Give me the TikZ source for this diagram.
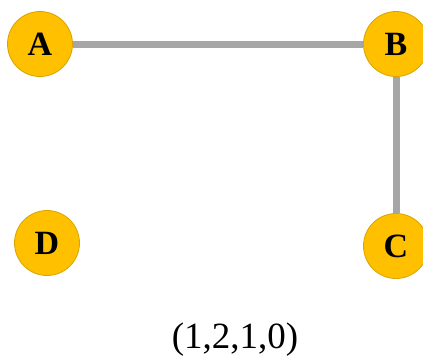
\documentclass[tikz,border=0pt]{standalone}
\usepackage{fontspec}
\setmainfont{Liberation Serif}
\definecolor{vertexfill}{HTML}{FFC000}
\definecolor{vertexdraw}{HTML}{D9A400}
\definecolor{edgegray}{HTML}{A6A6A6}
\begin{document}
\begin{tikzpicture}[x=1pt,y=-1pt,
vertex/.style={
% The shape:
circle,
fill=vertexfill,
draw=vertexdraw,
line width=0.8pt,
minimum size=65pt,
inner sep=0pt,
font=\fontsize{34}{36}\selectfont\bfseries
},
link/.style={
draw=edgegray,
line width=7pt
}
]
\useasboundingbox (0,0) rectangle (423,362);
\node (a) [vertex] at (40,44) {A};
\node (b) [vertex] at (396,44) {B};
\node (c) [vertex] at (396,246) {C};
\node (d) [vertex] at (47,243) {D};
\node (label) at (235,340) {\fontsize{37}{40}\selectfont (1,2,1,0)};
\path (a) edge[link] (b) (b) edge[link] (c);
\end{tikzpicture}
\end{document}
